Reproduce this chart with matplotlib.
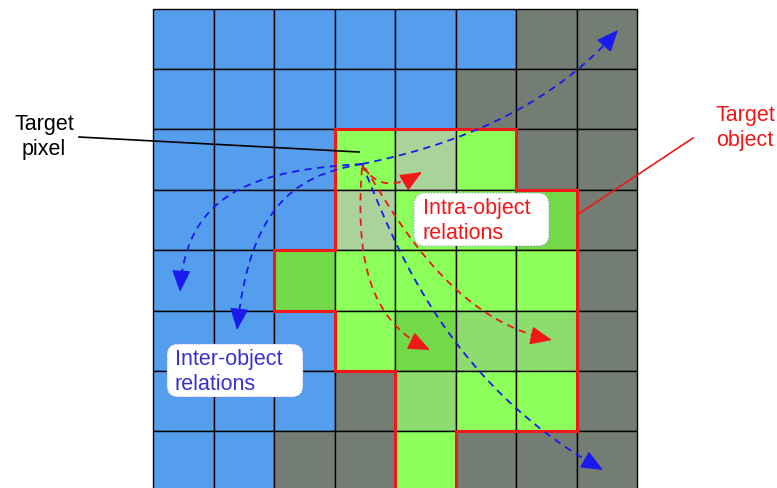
import numpy as np
import matplotlib.pyplot as plt
from matplotlib.patches import Rectangle, FancyBboxPatch

# ---------------------------------------------------------------------------
# Data: 8x8 pixel grid, one letter per cell (row 0 = top)
#   B blue background object, G gray background, L/P/D/M shades of the target object
# ---------------------------------------------------------------------------
GRID_ROWS = [
    "BBBBBBGG",
    "BBBBBGGG",
    "BBBLPLGG",
    "BBBPLLDG",
    "BBDLLLLG",
    "BBBLDMMG",
    "BBBGMLLG",
    "BBGGLGGG",
]
CELL_COLORS = {
    'B': '#559DED',
    'G': '#737D73',
    'L': '#8CFF5A',
    'P': '#AAD29B',
    'D': '#72D948',
    'M': '#8CDC6E',
}
OBJECT_CODES = set('LPDM')

TARGET_PIXEL_LABEL = "Target\npixel"
TARGET_OBJECT_LABEL = "Target\nobject"
INTRA_LABEL = "Intra-object\nrelations"
INTER_LABEL = "Inter-object\nrelations"

# relation arrows: (start, ctrl1, ctrl2, end) in image pixels
BLUE_ARROWS = [
    [(362, 164), (430, 150), (540, 120), (618, 30)],
    [(362, 164), (260, 170), (185, 190), (180, 292)],
    [(362, 164), (300, 175), (250, 200), (237, 330)],
    [(362, 164), (390, 230), (440, 380), (603, 470)],
]
RED_ARROWS = [
    [(362, 166), (378, 188), (395, 188), (422, 172)],
    [(362, 168), (356, 250), (365, 320), (430, 350)],
    [(365, 168), (395, 215), (450, 320), (552, 340)],
]

# grid placement in the 777x488 canvas
X0, Y0 = 153.0, 8.5
CW, CH = 60.5, 60.4

BLUE = '#1A1AF0'
RED = '#F01818'
HEAD_PX = 18


def bezier(p, n=120):
    p = np.array(p, float)
    t = np.linspace(0, 1, n)[:, None]
    return ((1 - t) ** 3 * p[0] + 3 * t * (1 - t) ** 2 * p[1]
            + 3 * t ** 2 * (1 - t) * p[2] + t ** 3 * p[3])


def draw_arrow(ax, pts, color):
    curve = bezier(pts)
    end = curve[-1]
    # cut the dashed body where the head starts
    dist = np.hypot(*(curve - end).T)
    body = curve[dist > HEAD_PX - 3]
    ax.plot(body[:, 0], body[:, 1], color=color, lw=1.3,
            ls=(0, (4, 3)), zorder=5)
    direction = end - curve[-3]
    direction /= np.hypot(*direction)
    start = end - direction * HEAD_PX
    ax.annotate('', xy=end, xytext=start,
                arrowprops=dict(arrowstyle='-|>,head_length=0.85,head_width=0.36',
                                color=color, lw=1.0, mutation_scale=16,
                                shrinkA=0, shrinkB=0),
                zorder=6)


def label_box(ax, x0, y0, x1, y1):
    ax.add_patch(FancyBboxPatch((x0, y0), x1 - x0, y1 - y0,
                                boxstyle='round,pad=0,rounding_size=11',
                                facecolor='white', edgecolor='#9090F0',
                                lw=0.8, ls=':', zorder=7))


def main():
    plt.rcParams['font.family'] = ['Liberation Sans', 'DejaVu Sans']
    fig = plt.figure(figsize=(7.77, 4.88), dpi=100)
    ax = fig.add_axes([0, 0, 1, 1])
    ax.set_xlim(0, 777)
    ax.set_ylim(488, 0)
    ax.axis('off')

    # -- cells ---------------------------------------------------------------
    for r, row in enumerate(GRID_ROWS):
        for c, code in enumerate(row):
            ax.add_patch(Rectangle((X0 + c * CW, Y0 + r * CH), CW, CH,
                                   facecolor=CELL_COLORS[code],
                                   edgecolor='black', lw=1.0, zorder=1))

    # -- object outline (edges between object and non-object cells) ----------
    nr, nc = len(GRID_ROWS), len(GRID_ROWS[0])

    def inside(r, c):
        return 0 <= r < nr and 0 <= c < nc and GRID_ROWS[r][c] in OBJECT_CODES

    for r in range(nr):
        for c in range(nc):
            if not inside(r, c):
                continue
            x, y = X0 + c * CW, Y0 + r * CH
            kw = dict(color=RED, lw=2.2, zorder=3, solid_capstyle='projecting')
            if not inside(r - 1, c):
                ax.plot([x, x + CW], [y, y], **kw)
            if not inside(r + 1, c) and r + 1 < nr:
                ax.plot([x, x + CW], [y + CH, y + CH], **kw)
            if not inside(r, c - 1):
                ax.plot([x, x], [y, y + CH], **kw)
            if not inside(r, c + 1):
                ax.plot([x + CW, x + CW], [y, y + CH], **kw)

    # -- labels ----------------------------------------------------------------
    ax.text(44, 137, TARGET_PIXEL_LABEL, ha='center', va='center',
            fontsize=15.5, color='black', linespacing=1.25)
    ax.plot([79, 359], [137, 152], color='black', lw=1.2, zorder=4)

    ax.text(716, 128, TARGET_OBJECT_LABEL, ha='left', va='center',
            fontsize=15.5, color=RED, linespacing=1.25)
    ax.plot([577, 693], [215, 138], color=RED, lw=1.2, zorder=4)

    label_box(ax, 414, 193, 549, 246)
    ax.text(423, 221, INTRA_LABEL, ha='left', va='center', fontsize=15.5,
            color=RED, linespacing=1.2, zorder=8)
    label_box(ax, 167, 344, 303, 397)
    ax.text(175, 372, INTER_LABEL, ha='left', va='center', fontsize=15.5,
            color='#3A30D0', linespacing=1.2, zorder=8)

    # -- relation arrows -------------------------------------------------------
    for pts in BLUE_ARROWS:
        draw_arrow(ax, pts, BLUE)
    for pts in RED_ARROWS:
        draw_arrow(ax, pts, RED)

    fig.savefig('out.png', dpi=100, facecolor='white')
    plt.close(fig)


if __name__ == "__main__":
    main()
